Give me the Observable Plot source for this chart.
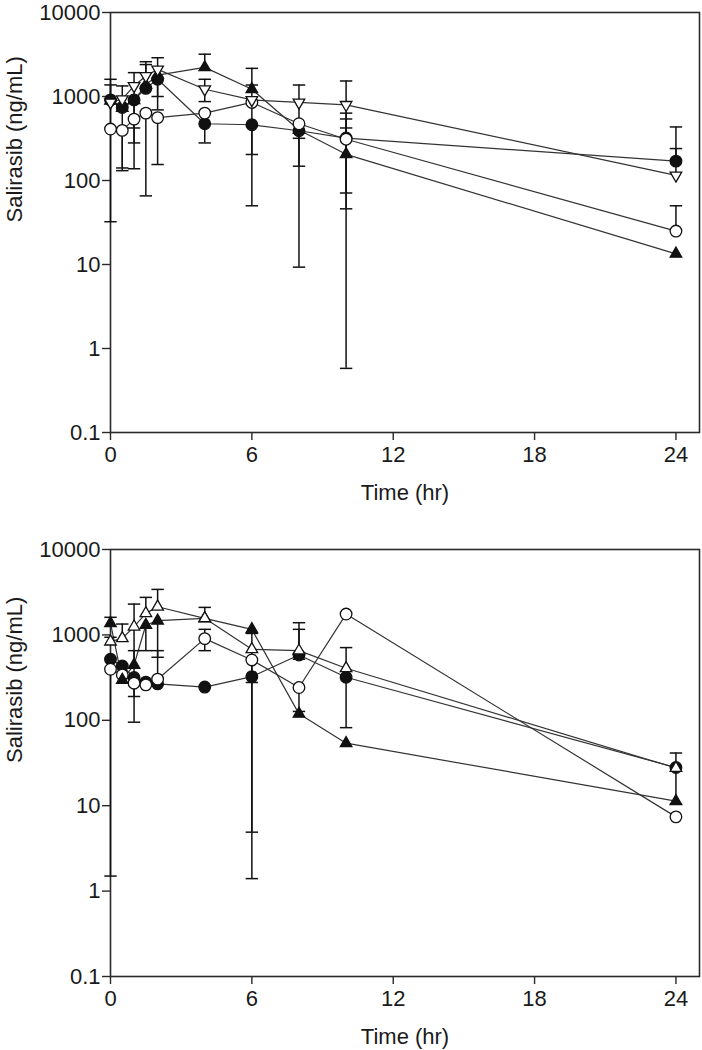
<!DOCTYPE html>
<html><head><meta charset="utf-8">
<script src="https://cdn.jsdelivr.net/npm/d3@7"></script>
<script src="https://cdn.jsdelivr.net/npm/@observablehq/plot@0.6"></script>
<style>
body{margin:0;background:#fff;}
#chart svg{display:block;}
</style></head><body><div id="chart"></div>
<script>
const times = [0, 0.5, 1, 1.5, 2, 4, 6, 8, 10, 24];
const xTicks = [0, 6, 12, 18, 24];
const yTicks = [0.1, 1, 10, 100, 1000, 10000];
const yTickLabels = ["0.1", "1", "10", "100", "1000", "10000"];
const xTitle = "Time (hr)";
const yTitle = "Salirasib (ng/mL)";

// Top panel: means
const topFilledCircle     = [912, 741, 912, 1250, 1603, 474, 461, 391, 320, 170];
const topOpenCircle       = [410, 395, 538, 634, 560, 634, 850, 474, 310, 25];
const topFilledTriangle   = [890, 730, 900, 1374, 1800, 2222, 1220, 400, 205, 13.4];
const topOpenTriangleDown = [849, 929, 1336, 1754, 2104, 1220, 910, 849, 796, 115];
// Top panel: error bar ends
const topFilledCircleLo     = [null, 141, 138, null, 1000, 280, 204, 148, null, null];
const topFilledCircleHi     = [1603, null, null, 2400, null, null, null, null, 634, 434];
const topOpenCircleLo       = [null, 131, 280, 65.6, 155, null, 50, 9.3, 71, null];
const topOpenCircleHi       = [null, null, null, null, null, null, null, null, 540, 50];
const topFilledTriangleLo   = [32.3, null, 422, null, 693, null, null, null, 0.58, null];
const topFilledTriangleHi   = [null, null, null, null, null, 3190, 2163, null, 422, null];
const topOpenTriangleDownLo = [null, null, null, null, null, 870, null, 318, 46, null];
const topOpenTriangleDownHi = [1374, 1336, 1923, 2595, 2893, 1603, 1370, 1370, 1530, 240];

// Bottom panel: means
const botFilledCircle   = [519, 433, 317, 280, 267, 245, 325, 582, 319, 28];
const botOpenCircle     = [396, 340, 272, 260, 303, 905, 509, 242, 1754, 7.4];
const botFilledTriangle = [1367, 297, 445, 1306, 1466, 1560, 1162, 119, 54, 11.3];
const botOpenTriangle   = [833, 912, 1247, 1787, 2136, 1563, 679, 654, 407, 27.6];
// Bottom panel: error bar ends
const botFilledCircleLo   = [1.5, null, 95, null, null, null, 4.9, 519, 82, 10.5];
const botFilledCircleHi   = [null, null, null, null, 654, null, null, 1162, 710, 41.4];
const botOpenCircleLo     = [null, null, null, null, null, 654, 1.4, 127, null, null];
const botOpenCircleHi     = [null, null, null, null, null, 1162, null, null, null, null];
const botFilledTriangleLo = [null, null, null, 654, 547, null, null, null, null, null];
const botFilledTriangleHi = [1607, null, 654, null, null, null, null, null, null, null];
const botOpenTriangleLo   = [null, null, 190, null, null, null, 277, null, null, null];
const botOpenTriangleHi   = [938, 1340, 2296, 2750, 3410, 2100, 1040, 1389, null, null];

// custom symbols
const triUp = {draw(ctx, size) { const r = Math.sqrt(size / Math.PI) * 1.15;
  ctx.moveTo(0, -r); ctx.lineTo(r * 0.866, r * 0.5); ctx.lineTo(-r * 0.866, r * 0.5); ctx.closePath(); }};
const triDown = {draw(ctx, size) { const r = Math.sqrt(size / Math.PI) * 1.15;
  ctx.moveTo(0, r); ctx.lineTo(r * 0.866, -r * 0.5); ctx.lineTo(-r * 0.866, -r * 0.5); ctx.closePath(); }};
const capSym = {draw(ctx, size) { const w = Math.sqrt(size / Math.PI);
  ctx.moveTo(-w, 0); ctx.lineTo(w, 0); }};

function buildSeries(name, values, lo, hi, symbol, filled) {
  return {name, symbol, filled,
    rows: times.map((t, i) => ({time: t, value: values[i], lo: lo[i], hi: hi[i], series: name}))};
}

const fontFamily = "'Liberation Sans', Arial, Helvetica, sans-serif";

function panel(series, {height, marginTop, marginBottom}) {
  const all = series.flatMap(s => s.rows);
  const bars = all.filter(d => d.lo != null || d.hi != null);
  const caps = [];
  for (const d of all) {
    if (d.lo != null) caps.push({time: d.time, v: d.lo});
    if (d.hi != null) caps.push({time: d.time, v: d.hi});
  }
  const dotMarks = series.map(s => Plot.dot(s.rows, {x: "time", y: "value", symbol: s.symbol, r: 5.8,
      fill: s.filled ? "#111" : "white", stroke: "#111", strokeWidth: 1.3}));
  const fmt = d => { const i = yTicks.findIndex(t => Math.abs(t - d) < 1e-9 * Math.max(1, t)); return i >= 0 ? yTickLabels[i] : ""; };
  return Plot.plot({
    width: 702, height, marginLeft: 110, marginRight: 3, marginTop, marginBottom,
    style: {fontFamily, background: "white", color: "#1a1a1a", overflow: "visible"},
    x: {domain: [0, 25]},
    y: {type: "log", domain: [0.1, 10000]},
    marks: [
      Plot.frame({stroke: "#2a2a2a", strokeWidth: 1.6}),
      Plot.axisX(xTicks, {tickSize: 8, tickPadding: 6, fontSize: 22, label: null, stroke: "#2a2a2a", strokeWidth: 1.4}),
      Plot.axisY(yTicks, {tickSize: 8, tickPadding: 2, fontSize: 22, label: null, tickFormat: fmt, stroke: "#2a2a2a", strokeWidth: 1.4}),
      Plot.text([xTitle], {text: d => d, frameAnchor: "bottom", dy: 60, fontSize: 22, lineAnchor: "middle"}),
      Plot.text([yTitle], {text: d => d, frameAnchor: "left", dx: -96, rotate: -90, fontSize: 22, lineAnchor: "middle"}),
      Plot.line(all, {x: "time", y: "value", z: "series", stroke: "#333", strokeWidth: 1.2}),
      Plot.ruleX(bars, {x: "time", y1: d => d.lo ?? d.value, y2: d => d.hi ?? d.value, stroke: "#111", strokeWidth: 1.5}),
      Plot.dot(caps, {x: "time", y: "v", symbol: capSym, r: 6.2, stroke: "#111", strokeWidth: 1.5, fill: "none"}),
      ...dotMarks
    ]
  });
}

const topSeries = [
  buildSeries("filledTriangle", topFilledTriangle, topFilledTriangleLo, topFilledTriangleHi, triUp, true),
  buildSeries("filledCircle", topFilledCircle, topFilledCircleLo, topFilledCircleHi, "circle", true),
  buildSeries("openCircle", topOpenCircle, topOpenCircleLo, topOpenCircleHi, "circle", false),
  buildSeries("openTriangleDown", topOpenTriangleDown, topOpenTriangleDownLo, topOpenTriangleDownHi, triDown, false)
];
const botSeries = [
  buildSeries("filledCircle", botFilledCircle, botFilledCircleLo, botFilledCircleHi, "circle", true),
  buildSeries("openCircle", botOpenCircle, botOpenCircleLo, botOpenCircleHi, "circle", false),
  buildSeries("filledTriangle", botFilledTriangle, botFilledTriangleLo, botFilledTriangleHi, triUp, true),
  buildSeries("openTriangle", botOpenTriangle, botOpenTriangleLo, botOpenTriangleHi, triUp, false)
];

const chart = document.getElementById("chart");
chart.append(panel(topSeries, {height: 520, marginTop: 12, marginBottom: 88}));
chart.append(panel(botSeries, {height: 530, marginTop: 29, marginBottom: 74}));
</script></body></html>
